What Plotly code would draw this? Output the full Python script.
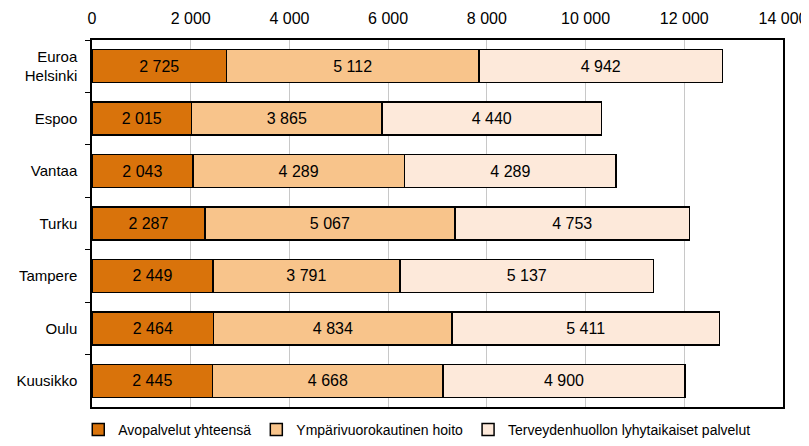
import plotly.graph_objects as go

cities = ["Euroa<br>Helsinki", "Espoo", "Vantaa", "Turku", "Tampere", "Oulu", "Kuusikko"]
avopalvelut = [2725, 2015, 2043, 2287, 2449, 2464, 2445]
ymparivuorokautinen = [5112, 3865, 4289, 5067, 3791, 4834, 4668]
lyhytaikaiset = [4942, 4440, 4289, 4753, 5137, 5411, 4900]

series = [
    ("Avopalvelut yhteensä", avopalvelut, "#D9730B"),
    ("Ympärivuorokautinen hoito", ymparivuorokautinen, "#F8C48B"),
    ("Terveydenhuollon lyhytaikaiset palvelut", lyhytaikaiset, "#FDE9DA"),
]

fig = go.Figure()
for name, vals, color in series:
    fig.add_trace(go.Bar(
        y=cities, x=vals, name=name, orientation="h",
        marker=dict(color=color, line=dict(color="black", width=1.5)),
        texttemplate="%{x:,d}", textposition="inside", insidetextanchor="middle",
        textfont=dict(color="black", size=16), constraintext="none",
        width=0.63,
    ))

# page body has an 8px margin, so the figure is a bit smaller than the window
fig.update_layout(
    barmode="stack",
    width=801, height=438,
    margin=dict(l=84, r=26, t=32, b=39),
    plot_bgcolor="white", paper_bgcolor="white",
    separators=", ",
    font=dict(family="Liberation Sans, Arial", size=15, color="black"),
    showlegend=True,
    legend=dict(orientation="h", x=0.47, xanchor="center",
                yref="container", y=0, yanchor="bottom",
                traceorder="normal", font=dict(size=14), itemwidth=30, tracegroupgap=0),
    xaxis=dict(side="top", range=[0, 14000], dtick=2000, tickformat=",d",
               tickfont=dict(size=16), ticklabelstandoff=8, automargin=False,
               showgrid=True, gridcolor="#C8C8C8", gridwidth=1,
               showline=True, linecolor="black", linewidth=1.5, mirror=True,
               ticks="", zeroline=False),
    yaxis=dict(autorange="reversed", tickson="boundaries", ticks="outside",
               ticklen=5, tickcolor="black", ticklabelstandoff=10, automargin=False,
               tickfont=dict(size=15),
               showline=True, linecolor="black", linewidth=1.5, mirror=True,
               showgrid=False),
)

fig.write_html("out.html")
